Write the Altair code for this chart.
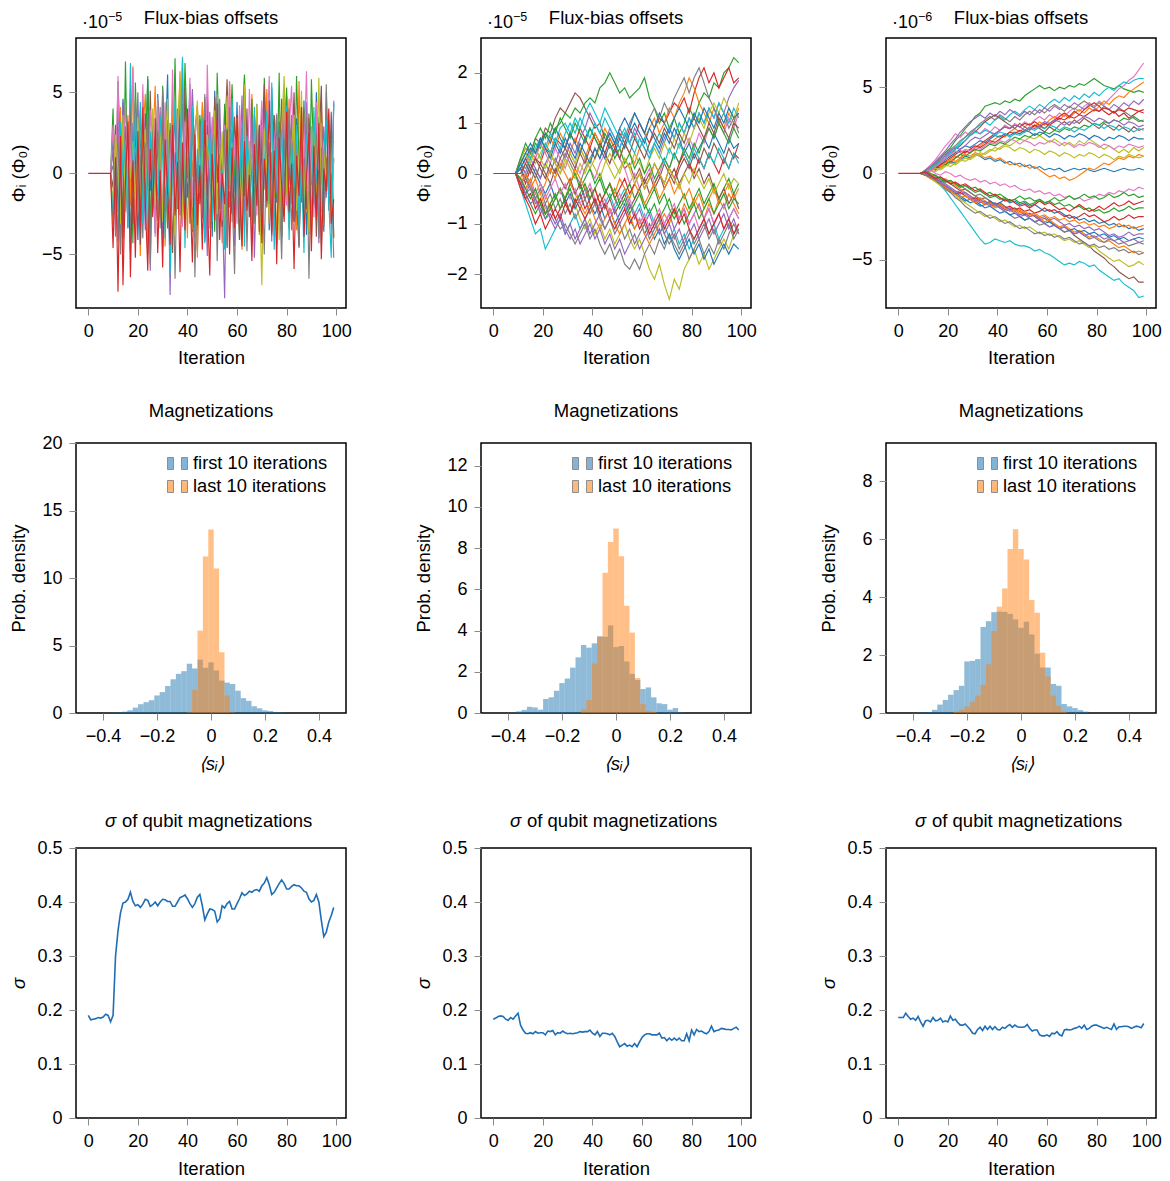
import altair as alt
import pandas as pd

FONT = "Liberation Sans"
BLUE, ORANGE, GREEN, RED, PURPLE = "#1f77b4", "#ff7f0e", "#2ca02c", "#d62728", "#9467bd"
BROWN, PINK, GRAY, OLIVE, CYAN = "#8c564b", "#e377c2", "#7f7f7f", "#bcbd22", "#17becf"
SIGMA_COLOR = "#1f6eb5"

W, H = 270, 270
ITER_TICKS = [0, 20, 40, 60, 80, 100]
ITER_DOMAIN = [-4.95, 103.95]
HOLD_UNTIL = 9  # offsets stay at 0 through this iteration

# ---------------- Row 1, panel 1 (x 1e-5), one value per iteration 10..99
P1_FIRST, P1_STEP = 10, 1
P1_A = [2.1, -1.5, 3.8, -2.9, 4.6, 0.7, -3.4, 5.2, -0.8, 2.9, -4.1, 1.6, 3.3, -2.2, 5.8, -1.1, 0.4, -3.7, 4.9, 2.0,
        -2.8, 1.3, 6.1, -4.4, 0.9, 3.5, -1.9, 4.2, -3.1, 2.6, -0.3, 5.5, -2.6, 1.0, -4.8, 3.0, 0.2, 4.7, -1.4, 2.3,
        -3.9, 5.1, -0.6, 1.8, -2.4, 3.9, -4.6, 0.5, 2.7, -1.2, 4.4, -3.3, 1.1, 5.9, -2.0, 0.8, -4.2, 3.6, 1.5, -2.7,
        4.0, -0.9, 2.4, -3.5, 5.3, 0.1, -1.8, 3.2, -4.0, 2.2, 4.8, -2.5, 0.6, -3.0, 3.4, 1.9, -1.6, 4.5, -3.8, 0.3,
        2.8, -2.1, 5.0, -0.4, 1.2, -3.6, 3.7, 0.0, -2.3, 4.3]
P1_B = [-3.2, 2.7, -0.5, 4.1, -4.9, 1.8, 3.6, -2.0, 6.6, -1.3, 0.9, -5.1, 2.4, 4.9, -0.7, -3.6, 1.7, 5.4, -2.9, 0.4,
        3.1, -4.5, 2.0, -1.1, 4.6, -3.3, 0.8, 6.3, -2.3, 1.5, -4.0, 3.8, -0.2, 2.5, -5.2, 1.1, 4.4, -1.7, 2.9, -3.4,
        0.6, 4.2, -2.8, 1.9, -4.3, 3.3, -0.9, 5.6, -3.0, 2.1, -1.5, 3.7, -4.7, 0.2, 2.6, -2.2, 4.9, -0.4, 1.4, -3.8,
        3.0, -1.0, 5.2, -3.1, 0.7, 2.3, -4.4, 1.6, 3.9, -2.6, 0.1, 4.6, -1.9, 2.8, -3.5, 5.7, -0.8, 1.3, -2.4, 3.4,
        -4.1, 0.5, 2.2, -1.6, 4.7, -3.2, 1.0, -0.3, 2.6, -3.9]
P1_C = [4.0, -2.1, 5.7, 1.2, -3.0, 6.9, -1.6, 2.8, -4.3, 5.6, 0.3, 3.9, -2.5, 1.4, 6.0, -3.8, 2.5, -0.6, 4.5, -2.7,
        5.4, 1.9, -3.4, 3.1, 0.0, 7.1, -2.2, 4.1, -1.0, 6.8, 2.2, -3.1, 5.0, 0.6, -2.4, 3.6, 1.7, -4.0, 4.8, -0.5,
        2.9, -3.6, 6.2, 0.9, -1.9, 4.3, -2.8, 1.5, 5.5, -0.2, 3.2, -4.1, 2.0, 6.1, -1.3, 0.4, 4.6, -2.6, 3.8, 1.0,
        -3.3, 5.9, 0.7, -2.0, 4.4, 2.5, -1.5, 6.2, -3.9, 1.8, 5.3, -0.7, 2.7, -2.9, 6.0, 0.9, -1.8, 4.0, 2.1, -3.7,
        5.8, 0.4, -2.2, 3.5, 1.3, -3.0, 4.2, -0.9, 2.4, 1.9]
P1_E = [1.5, -3.9, 2.6, -1.0, 4.4, -2.3, 0.3, -4.8, 3.1, -0.7, 5.0, -2.0, 1.2, -3.5, 3.7, -6.0, 0.9, 2.2, -1.4, 4.1,
        -4.6, 0.5, 3.3, -7.5, 1.8, -0.9, 4.0, -2.6, 7.0, -3.2, 2.4, -1.1, 5.2, -4.0, 0.6, 3.1, -2.8, 1.4, -5.1, 3.8,
        -0.5, 2.0, -3.7, 4.6, -1.6, -7.7, 3.2, -2.1, 0.8, -4.5, 2.9, -0.3, 4.8, -3.0, 1.7, -1.9, 3.5, -5.2, 0.4, 2.6,
        -2.5, 4.9, -0.8, 1.9, -4.2, 3.0, -1.2, 2.5, -3.4, 5.1, -1.7, 0.8, 3.6, -2.7, 1.0, -4.6, 2.3, -0.4, 4.4, -3.1,
        1.6, -2.0, 3.9, -4.3, 0.2, 2.9, -1.5, 3.3, -2.6, 0.9]
P1_F = [-0.9, 3.0, -2.4, 1.7, -4.0, 2.9, -1.2, 4.5, -3.1, 0.6, 2.3, -4.4, 1.0, 3.7, -2.0, 5.1, -0.8, -3.0, 2.1, -1.6,
        4.0, -2.9, 0.4, 2.7, -4.9, 1.3, -0.2, 3.4, -2.3, 5.3, -1.5, 0.9, -3.6, 2.6, 4.2, -1.9, 0.1, -4.2, 3.0, 1.4,
        -2.7, 4.7, -0.5, 1.8, -3.3, 2.2, 5.8, -1.0, -2.5, 3.5, 0.3, -4.1, 2.8, -1.4, 4.0, -2.7, 1.2, -0.6, 3.3, -3.6,
        1.7, 5.5, -2.1, 0.2, -3.8, 3.6, 1.0, -2.4, 4.6, -0.9, 2.0, -3.4, 0.7, 5.0, -1.8, -4.5, 2.5, 0.0, -2.2, 3.7,
        -0.7, 2.2, -3.9, 1.5, 5.4, -2.8, 0.9, -1.3, 3.8, -4.0]
P1_G = [3.0, -0.2, 6.0, -2.8, 1.1, 4.3, -1.7, 0.9, 6.5, -3.6, 2.0, -1.0, 5.5, 0.4, -2.2, 3.9, 1.6, -3.9, 4.7, 0.0,
        -2.5, 4.4, 1.3, -0.8, 6.4, -1.9, 2.5, 5.0, -3.3, 3.2, 0.7, 5.9, -2.1, 1.9, 4.0, -0.7, 2.8, -3.7, 6.7, 0.3,
        3.5, -1.5, 4.9, 1.0, -2.9, 3.0, 0.5, 5.7, -1.2, 2.2, -3.1, 4.2, 0.8, 2.7, -1.8, 5.2, -0.2, 3.3, -2.6, 1.3,
        4.5, -0.9, 2.1, 6.0, -3.0, 1.8, 3.7, -1.4, 0.6, 4.8, -2.0, 2.6, 5.4, -0.5, 1.4, -3.2, 4.1, 0.9, 6.3, -1.1,
        2.9, -2.7, 4.4, 0.2, 3.1, -1.9, 5.0, 1.1, -3.5, 4.5]
P1_H = [0.5, -2.9, 1.9, -5.0, 3.4, -1.4, 2.2, -3.8, 0.8, 4.6, -2.3, 1.1, -4.0, 2.9, 0.1, -5.6, 3.0, -1.0, 2.6, -3.4,
        5.2, -2.0, 0.6, -4.1, 2.1, -6.5, 1.4, -0.9, 4.3, -3.0, 1.0, -2.6, 3.8, -6.4, 0.4, 2.4, -1.8, 4.9, -3.2, 0.2,
        -2.1, 3.3, -5.4, 1.2, -0.6, 2.7, -4.5, 4.1, -1.3, -6.2, 2.0, -2.8, 0.9, 3.9, -4.8, 1.5, -0.4, -3.1, 4.3, -1.6,
        0.6, -5.0, 2.8, -2.2, 1.3, -3.9, 3.6, -0.7, -5.3, 2.1, -1.2, 4.0, -3.5, 0.4, 2.2, -4.4, 1.0, -2.7, 3.5, -6.5,
        0.8, -1.9, 2.5, -4.0, 1.6, -3.3, 5.5, -2.3, 0.0, -5.2]
P1_I = [-1.8, 2.4, 0.2, -3.1, 3.6, -2.4, 1.5, -0.3, 2.0, -2.6, 3.5, -1.7, 0.6, 2.7, -3.4, 1.1, 4.0, -2.0, -0.4, 2.9,
        -3.0, 1.2, 4.6, -1.6, 0.3, -3.8, 2.8, 5.9, -2.7, 0.8, 3.1, -1.3, -3.5, 2.0, 4.5, -0.8, 1.6, -3.0, 2.4, 0.5,
        -1.4, 3.9, -2.5, 0.0, 2.6, -3.7, 4.8, -1.1, 1.9, -2.9, 3.4, 0.7, -2.4, 5.5, -1.7, 2.0, -3.3, 0.9, 4.2, -0.6,
        -6.9, 2.7, 0.4, -2.8, 3.8, -1.5, 1.2, -4.1, 2.9, 6.0, -0.9, -3.2, 1.7, 3.6, -2.3, 0.6, 5.1, -1.9, 2.2, -3.6,
        0.4, 3.0, -1.2, 5.9, -2.4, 1.4, -0.5, 3.7, -3.0, 1.0]
P1_J = [-2.6, 0.8, -4.2, 3.2, -0.2, 2.1, -3.3, 6.8, -1.5, 3.7, -0.6, 4.4, -3.1, 1.9, -5.0, 2.6, -1.3, 0.5, -2.8, 3.6,
        1.0, -4.0, 2.2, -6.2, 0.7, 4.5, -2.1, 1.3, 7.2, -4.6, 2.7, -0.4, 4.2, -3.4, 1.5, -1.2, 3.4, -4.3, 0.9, 2.5,
        -3.0, 1.4, 4.4, -2.2, 0.2, -4.7, 2.8, -1.0, 4.6, -3.4, 1.8, -0.8, 3.1, -4.5, 2.3, 0.4, -2.9, 4.1, -1.4, 2.9,
        -3.7, 0.2, 3.9, -1.9, 5.6, -4.7, 1.6, -0.5, 2.7, -2.0, 4.2, -4.1, 1.9, -0.9, 3.0, -3.3, 0.5, -4.9, 2.4, 1.1,
        -2.9, 4.1, -0.6, 2.0, -4.4, 1.5, 3.3, -1.7, -5.2, 4.4]
P1_D = [-4.6, 1.0, -7.3, 2.3, -6.9, -0.4, 3.2, -6.4, 0.8, -5.2, 2.6, -3.3, 4.1, -1.8, -6.0, 1.5, -2.7, 3.4, -4.9, 0.2,
        -5.8, 2.1, -1.2, -4.4, 3.0, -2.6, 0.7, -6.1, 1.9, -3.5, 4.0, -1.0, -5.5, 2.4, -3.2, 0.5, -4.7, 3.3, -1.5, -6.3,
        1.2, -2.9, 4.3, -4.1, 0.0, -1.9, 2.7, -5.0, 1.6, -3.4, 3.6, -0.6, -4.5, 2.0, -2.3, -0.1, -5.4, 1.8, -2.0, 3.0,
        -4.3, 0.9, -1.7, 4.5, -3.6, 1.4, -5.6, 2.2, -0.8, -3.0, 3.8, -2.4, 0.6, -5.9, 1.1, -1.4, 4.1, -3.9, -0.2, 2.5,
        -4.8, 1.7, -2.8, 3.1, -5.3, 0.3, -1.1, 4.0, -3.1, -1.6]
P1_SERIES = [("a", BLUE, P1_A), ("b", ORANGE, P1_B), ("c", GREEN, P1_C), ("e", PURPLE, P1_E),
             ("f", BROWN, P1_F), ("g", PINK, P1_G), ("h", GRAY, P1_H), ("i", OLIVE, P1_I),
             ("j", CYAN, P1_J), ("k", RED, P1_D)]

# ---------------- Row 1, panel 2 (x 1e-5), every other iteration 11..99
P2_FIRST, P2_STEP = 11, 2
P2_W1 = [0.2, 0.4, 0.3, 0.6, 0.5, 0.8, 0.7, 0.9, 1.0, 1.2, 1.1, 1.3, 1.2, 1.4, 1.5, 1.4, 1.7, 1.8, 2.0, 1.8,
         1.6, 1.7, 1.5, 1.6, 1.7, 1.9, 1.5, 1.3, 1.0, 1.2, 0.9, 1.1, 0.8, 1.0, 1.3, 1.1, 1.4, 1.6, 1.5, 1.8,
         1.7, 2.0, 2.1, 2.3, 2.2]
P2_W2 = [0.1, -0.2, 0.1, 0.3, 0.2, 0.5, 0.4, 0.7, 0.6, 0.5, 0.8, 0.6, 0.9, 0.7, 0.5, 0.8, 0.6, 0.4, 0.7, 0.5,
         0.8, 0.6, 0.9, 0.7, 1.0, 0.8, 0.6, 0.9, 1.1, 1.0, 1.2, 1.4, 1.3, 1.5, 1.2, 1.6, 1.9, 2.1, 1.8, 2.0,
         1.7, 1.9, 2.1, 1.8, 1.9]
P2_W3 = [-0.1, 0.2, 0.4, 0.3, 0.6, 0.4, 0.7, 0.5, 0.8, 0.6, 0.4, 0.7, 0.5, 0.3, 0.6, 0.8, 0.6, 0.9, 0.7, 0.5,
         0.3, 0.6, 0.4, 0.2, 0.5, 0.7, 0.9, 1.1, 0.8, 1.0, 1.3, 1.1, 1.4, 1.6, 1.9, 1.7, 1.4, 1.2, 1.0, 1.3,
         1.1, 0.9, 1.2, 1.0, 1.3]
P2_W4 = [0.2, 0.0, -0.2, 0.1, -0.1, 0.2, 0.0, 0.3, 0.1, 0.4, 0.2, 0.0, -0.2, 0.1, 0.3, 0.5, 0.3, 0.6, 0.8, 0.6,
         0.9, 0.7, 1.0, 1.2, 1.0, 0.8, 1.1, 1.3, 1.1, 1.4, 1.2, 1.5, 1.7, 1.9, 1.6, 1.9, 2.1, 1.8, 1.5, 1.3,
         1.0, 1.2, 0.9, 1.1, 0.8]
P2_W5 = [0.3, 0.5, 0.4, 0.7, 0.6, 0.9, 0.8, 1.1, 1.3, 1.2, 1.4, 1.6, 1.5, 1.3, 1.1, 0.9, 1.0, 0.7, 0.5, 0.6,
         0.3, 0.1, 0.2, -0.1, 0.1, -0.2, 0.0, -0.3, -0.1, 0.2, 0.0, -0.2, 0.1, 0.3, 0.1, 0.4, 0.2, 0.5, 0.3, 0.6,
         0.4, 0.2, 0.5, 0.3, 0.6]
P2_W6 = [-0.1, -0.3, -0.2, -0.5, -0.4, -0.7, -0.6, -0.4, -0.7, -0.5, -0.8, -0.6, -0.9, -1.1, -0.9, -1.2, -1.0, -1.3, -1.1, -1.4,
         -1.2, -1.0, -1.3, -1.5, -1.3, -1.6, -1.9, -2.1, -1.8, -2.2, -2.5, -2.1, -2.3, -1.9, -1.7, -1.5, -1.8, -1.6, -1.9, -1.7,
         -1.5, -1.3, -1.5, -1.2, -1.1]
P2_W7 = [-0.3, -0.6, -0.9, -1.2, -1.1, -1.5, -1.3, -1.1, -0.9, -1.2, -1.0, -0.8, -1.1, -0.9, -0.7, -0.5, -0.8, -0.6, -0.4, -0.7,
         -0.5, -0.3, -0.6, -0.8, -0.6, -0.9, -0.7, -1.0, -1.2, -1.0, -1.3, -1.1, -1.4, -1.2, -1.5, -1.3, -1.1, -0.9, -1.2, -1.0,
         -1.3, -1.1, -0.9, -1.2, -1.0]
P2_W8 = [-0.2, -0.4, -0.3, -0.6, -0.5, -0.8, -0.7, -0.9, -1.1, -1.0, -1.2, -1.4, -1.2, -1.0, -1.3, -1.1, -1.4, -1.6, -1.4, -1.7,
         -1.5, -1.8, -1.9, -1.7, -1.9, -1.6, -1.4, -1.6, -1.3, -1.5, -1.2, -1.4, -1.6, -1.4, -1.7, -1.5, -1.3, -1.6, -1.4, -1.6,
         -1.3, -1.5, -1.2, -1.0, -1.2]
P2_W9 = [0.1, -0.1, 0.2, 0.0, -0.2, -0.4, -0.2, -0.5, -0.3, -0.6, -0.4, -0.7, -0.5, -0.3, -0.6, -0.8, -0.6, -0.9, -0.7, -1.0,
         -0.8, -0.6, -0.9, -1.1, -0.9, -1.2, -1.0, -1.3, -1.1, -1.4, -1.2, -1.5, -1.7, -1.5, -1.3, -1.6, -1.4, -1.7, -1.5, -1.8,
         -1.6, -1.4, -1.6, -1.4, -1.5]
P2_W10 = [0.2, 0.0, 0.3, 0.1, -0.1, 0.2, 0.4, 0.2, 0.5, 0.3, 0.6, 0.4, 0.7, 0.9, 1.2, 1.0, 0.8, 0.6, 0.9, 0.7,
          0.5, 0.8, 0.6, 0.9, 0.7, 0.5, 0.3, 0.6, 0.4, 0.7, 0.9, 0.7, 1.0, 0.8, 1.1, 0.9, 1.2, 1.0, 1.3, 1.1,
          1.4, 1.2, 1.5, 1.7, 1.85]
P2_W11 = [0.3, 0.2, 0.5, 0.3, 0.6, 0.4, 0.2, 0.5, 0.3, 0.1, 0.4, 0.2, 0.0, 0.3, 0.1, -0.1, 0.2, 0.4, 0.2, 0.5,
          0.3, 0.1, -0.2, 0.0, -0.3, -0.1, 0.1, -0.2, 0.0, 0.3, 0.1, 0.4, 0.2, 0.5, 0.7, 0.5, 0.8, 0.6, 0.9, 0.7,
          1.0, 0.8, 1.1, 0.9, 1.2]
P2_W13 = [-0.1, -0.3, -0.1, -0.4, -0.6, -0.4, -0.7, -0.5, -0.3, -0.5, -0.2, -0.4, -0.6, -0.8, -0.6, -0.9, -1.1, -0.9, -0.7, -1.0,
          -1.2, -1.0, -0.8, -1.1, -0.9, -1.2, -1.4, -1.2, -1.0, -0.8, -1.0, -0.7, -0.9, -0.6, -0.8, -0.5, -0.7, -0.9, -0.6, -0.8,
          -0.5, -0.7, -0.4, -0.6, -0.8]
P2_W14 = [0.2, 0.4, 0.3, 0.5, 0.7, 0.5, 0.8, 0.6, 0.9, 1.0, 0.8, 1.1, 0.9, 1.2, 1.4, 1.2, 1.0, 1.3, 1.1, 0.9,
          0.7, 0.9, 0.6, 0.8, 0.5, 0.7, 0.4, 0.6, 0.8, 0.6, 0.9, 0.7, 1.0, 0.8, 1.1, 0.9, 1.2, 1.0, 1.3, 1.1,
          1.4, 1.2, 1.0, 1.3, 1.1]
P2_W15 = [-0.2, -0.4, -0.6, -0.8, -0.6, -0.9, -0.7, -0.5, -0.3, -0.5, -0.2, 0.0, -0.3, -0.1, 0.1, -0.2, 0.0, -0.3, -0.5, -0.3,
          -0.6, -0.4, -0.2, -0.5, -0.3, -0.6, -0.8, -0.6, -0.9, -0.7, -0.5, -0.8, -0.6, -0.4, -0.7, -0.5, -0.3, -0.6, -0.4, -0.2,
          -0.5, -0.3, -0.1, -0.4, -0.2]
P2_W16 = [-0.1, -0.4, -0.2, -0.5, -0.7, -0.9, -0.8, -1.0, -0.8, -1.1, -1.3, -1.1, -1.4, -1.2, -1.0, -1.3, -1.1, -1.4, -1.2, -1.5,
          -1.3, -1.6, -1.4, -1.2, -1.5, -1.3, -1.1, -0.9, -1.2, -1.0, -0.8, -1.1, -0.9, -0.7, -1.0, -0.8, -0.6, -0.9, -0.7, -1.0,
          -0.8, -0.6, -0.9, -0.7, -0.9]
P2_W17 = [0.1, 0.3, 0.1, -0.1, 0.2, 0.0, -0.2, 0.1, -0.1, -0.3, -0.1, -0.4, -0.2, -0.5, -0.3, -0.6, -0.4, -0.7, -0.5, -0.8,
          -0.6, -0.4, -0.7, -0.5, -0.3, -0.1, -0.4, -0.2, 0.0, -0.3, -0.1, 0.1, -0.2, 0.0, 0.2, -0.1, 0.1, -0.2, 0.0, -0.3,
          -0.5, -0.3, -0.6, -0.4, -0.7]
P2_W18 = [0.3, 0.5, 0.4, 0.2, 0.4, 0.6, 0.4, 0.2, 0.0, 0.2, 0.4, 0.2, 0.5, 0.3, 0.1, 0.3, 0.5, 0.3, 0.1, -0.1,
          0.1, 0.3, 0.1, 0.4, 0.2, 0.0, 0.3, 0.5, 0.3, 0.6, 0.4, 0.7, 0.5, 0.8, 0.6, 0.9, 1.1, 0.9, 1.2, 1.4,
          1.2, 1.5, 1.3, 1.1, 1.4]
P2_X1 = [0.1, 0.3, 0.5, 0.4, 0.6, 0.8, 0.6, 0.9, 0.7, 0.5, 0.8, 0.6, 0.4, 0.7, 0.9, 0.7, 0.5, 0.3, 0.6, 0.4,
         0.7, 0.5, 0.8, 1.0, 0.8, 0.6, 0.9, 0.7, 0.5, 0.8, 0.6, 0.9, 0.7, 0.4, 0.6, 0.3, 0.5, 0.7, 0.5, 0.8,
         0.6, 0.4, 0.7, 0.5, 0.6]
P2_X2 = [-0.2, 0.0, -0.3, -0.1, -0.4, -0.2, 0.1, -0.1, 0.2, 0.0, -0.2, 0.1, -0.1, -0.3, -0.5, -0.3, -0.6, -0.4, -0.2, -0.4,
         -0.1, -0.3, -0.5, -0.2, -0.4, -0.6, -0.4, -0.2, -0.5, -0.3, -0.1, -0.4, -0.2, -0.5, -0.3, -0.6, -0.4, -0.7, -0.5, -0.3,
         -0.6, -0.4, -0.2, -0.5, -0.3]
P2_X3 = [0.3, 0.6, 0.4, 0.7, 0.9, 0.7, 1.0, 0.8, 1.1, 0.9, 0.7, 1.0, 0.8, 0.6, 0.9, 0.7, 0.5, 0.8, 0.6, 0.3,
         0.5, 0.2, 0.4, 0.1, 0.3, 0.0, 0.2, -0.1, 0.1, 0.3, 0.1, 0.4, 0.2, 0.5, 0.3, 0.6, 0.4, 0.7, 0.9, 0.7,
         1.0, 0.8, 0.6, 0.9, 0.7]
P2_X4 = [-0.3, -0.5, -0.4, -0.7, -0.5, -0.8, -0.6, -0.9, -0.7, -0.5, -0.8, -0.6, -0.4, -0.7, -0.5, -0.3, -0.6, -0.4, -0.2, -0.5,
         -0.3, -0.1, -0.4, -0.2, 0.0, -0.3, -0.1, 0.2, 0.0, -0.2, 0.1, -0.1, 0.2, 0.4, 0.2, 0.0, 0.3, 0.1, 0.4, 0.2,
         0.0, 0.3, 0.1, 0.4, 0.3]
P2_X5 = [-0.2, -0.4, -0.6, -0.5, -0.8, -0.6, -0.9, -1.1, -0.9, -1.2, -1.0, -1.3, -1.1, -0.9, -1.2, -1.0, -0.8, -1.1, -0.9, -0.7,
         -1.0, -0.8, -0.6, -0.9, -0.7, -1.0, -0.8, -1.1, -0.9, -1.2, -1.0, -1.3, -1.1, -1.4, -1.2, -1.0, -1.3, -1.1, -0.9, -1.2,
         -1.0, -0.8, -1.1, -0.9, -1.2]
P2_X6 = [0.2, 0.1, 0.3, 0.5, 0.3, 0.6, 0.4, 0.7, 0.5, 0.8, 1.0, 0.8, 1.1, 0.9, 0.7, 1.0, 0.8, 1.1, 0.9, 0.7,
         0.5, 0.8, 0.6, 0.4, 0.7, 0.5, 0.3, 0.6, 0.4, 0.2, 0.5, 0.3, 0.6, 0.4, 0.2, 0.5, 0.3, 0.1, 0.4, 0.2,
         0.5, 0.3, 0.1, 0.4, 0.2]
P2_X7 = [-0.1, -0.3, -0.2, -0.4, -0.2, -0.5, -0.3, -0.1, -0.4, -0.2, -0.5, -0.3, -0.6, -0.4, -0.2, -0.5, -0.7, -0.5, -0.8, -0.6,
         -0.4, -0.7, -0.5, -0.8, -1.0, -0.8, -1.1, -0.9, -0.7, -1.0, -0.8, -0.6, -0.9, -0.7, -1.0, -0.8, -1.1, -0.9, -0.7, -1.0,
         -0.8, -1.1, -0.9, -0.7, -0.9]
P2_X8 = [0.0, 0.2, 0.0, 0.3, 0.1, -0.1, 0.2, 0.0, 0.3, 0.5, 0.3, 0.1, 0.4, 0.2, 0.5, 0.3, 0.6, 0.4, 0.2, 0.5,
         0.3, 0.6, 0.4, 0.7, 0.5, 0.3, 0.6, 0.8, 0.6, 0.9, 0.7, 0.5, 0.8, 0.6, 0.9, 1.1, 0.9, 0.7, 1.0, 0.8,
         1.1, 0.9, 0.7, 1.0, 0.9]
P2_X9 = [-0.2, -0.1, -0.3, -0.5, -0.3, -0.6, -0.4, -0.7, -0.5, -0.8, -0.6, -0.9, -0.7, -0.5, -0.8, -0.6, -0.9, -1.1, -0.9, -1.2,
         -1.0, -1.3, -1.1, -1.4, -1.2, -1.0, -1.3, -1.1, -0.9, -1.2, -1.4, -1.2, -1.5, -1.3, -1.1, -1.4, -1.2, -1.0, -1.3, -1.1,
         -1.4, -1.2, -1.0, -1.3, -1.1]
P2_X10 = [0.2, 0.4, 0.2, 0.5, 0.3, 0.1, 0.4, 0.2, 0.0, 0.3, 0.1, -0.1, 0.2, 0.0, 0.3, 0.1, -0.1, 0.2, 0.4, 0.2,
          0.0, 0.3, 0.1, -0.2, 0.0, -0.3, -0.1, 0.2, 0.0, -0.2, 0.1, -0.1, -0.3, 0.0, -0.2, 0.1, -0.1, -0.3, -0.1, -0.4,
          -0.2, 0.0, -0.3, -0.1, -0.2]
P2_X11 = [-0.1, -0.3, -0.5, -0.3, -0.6, -0.8, -0.6, -0.4, -0.7, -0.5, -0.3, -0.6, -0.4, -0.2, -0.5, -0.3, -0.1, -0.4, -0.2, -0.5,
          -0.7, -0.5, -0.8, -0.6, -0.4, -0.7, -0.5, -0.3, -0.6, -0.4, -0.7, -0.9, -0.7, -1.0, -0.8, -0.6, -0.9, -0.7, -0.5, -0.8,
          -0.6, -0.4, -0.7, -0.5, -0.6]
P2_X12 = [0.2, 0.4, 0.6, 0.4, 0.7, 0.5, 0.3, 0.6, 0.4, 0.7, 0.5, 0.3, 0.6, 0.4, 0.2, 0.5, 0.3, 0.6, 0.8, 0.6,
          0.9, 1.1, 0.9, 1.2, 1.0, 0.8, 1.1, 0.9, 1.2, 1.0, 0.8, 1.1, 1.3, 1.1, 0.9, 1.2, 1.0, 1.3, 1.1, 0.9,
          1.2, 1.0, 1.3, 1.1, 1.2]
P2_W12 = [-0.2, -0.5, -0.7, -1.0, -0.8, -1.1, -0.9, -0.7, -0.9, -0.6, -0.8, -0.5, -0.7, -0.9, -0.7, -0.5, -0.8, -0.6, -0.9, -1.1,
          -0.9, -0.7, -1.0, -0.8, -1.1, -0.9, -1.2, -1.0, -0.8, -1.1, -0.9, -0.7, -1.0, -0.8, -1.1, -1.3, -1.1, -0.9, -1.2, -1.0,
          -0.8, -1.1, -0.9, -1.2, -1.0]
P2_SERIES = [("a", GREEN, P2_W1), ("b", RED, P2_W2), ("c", ORANGE, P2_W3), ("d", GRAY, P2_W4),
             ("e", BROWN, P2_W5), ("f", OLIVE, P2_W6), ("g", CYAN, P2_W7), ("h", GRAY, P2_W8),
             ("i", BLUE, P2_W9), ("j", PURPLE, P2_W10), ("k", PINK, P2_W11), ("l", ORANGE, P2_W13),
             ("m", CYAN, P2_W14), ("n", GREEN, P2_W15), ("o", PURPLE, P2_W16), ("p", BROWN, P2_W17),
             ("q", OLIVE, P2_W18), ("r", BLUE, P2_X1), ("s", ORANGE, P2_X2), ("t", GREEN, P2_X3),
             ("u", RED, P2_X4), ("v", PURPLE, P2_X5), ("w", CYAN, P2_X6), ("x", PINK, P2_X7),
             ("y", BROWN, P2_X8), ("z", GRAY, P2_X9), ("za", OLIVE, P2_X10), ("zb", GREEN, P2_X11),
             ("zc", BLUE, P2_X12), ("zz", RED, P2_W12)]

# ---------------- Row 1, panel 3 (x 1e-6), every other iteration 11..99
P3_FIRST, P3_STEP = 11, 2
P3_V1 = [0.1, 0.3, 0.6, 0.9, 1.2, 1.5, 1.9, 2.2, 2.6, 2.9, 3.3, 3.5, 3.9, 4.0, 4.1, 4.0, 4.2, 4.1, 4.3, 4.2,
         4.5, 4.7, 4.9, 5.1, 4.9, 5.0, 4.8, 5.0, 4.9, 5.1, 5.0, 5.2, 5.1, 5.3, 5.5, 5.3, 5.1, 5.0, 4.9, 5.1,
         4.9, 4.8, 4.7, 4.8, 4.7]
P3_V2 = [0.2, 0.5, 0.8, 1.2, 1.6, 1.9, 2.3, 2.1, 2.4, 2.2, 2.5, 2.3, 2.6, 2.4, 2.7, 2.5, 2.8, 2.6, 2.9, 2.7,
         3.0, 2.8, 3.1, 3.3, 3.1, 3.4, 3.2, 3.5, 3.3, 3.6, 3.8, 3.6, 3.9, 4.1, 3.9, 4.2, 4.0, 4.3, 4.6, 4.9,
         5.1, 5.4, 5.6, 6.0, 6.4]
P3_V3 = [0.1, 0.3, 0.5, 0.8, 1.0, 1.3, 1.5, 1.8, 2.1, 2.3, 2.6, 2.8, 3.0, 2.8, 3.1, 3.3, 3.1, 3.4, 3.6, 3.4,
         3.7, 3.9, 3.7, 4.0, 3.8, 4.1, 4.3, 4.1, 4.4, 4.2, 4.5, 4.3, 4.6, 4.4, 4.7, 4.5, 4.8, 5.0, 4.8, 5.1,
         5.3, 5.2, 5.4, 5.5, 5.5]
P3_V4 = [0.0, 0.2, 0.4, 0.3, 0.6, 0.8, 1.0, 0.9, 1.2, 1.4, 1.3, 1.6, 1.8, 1.7, 2.0, 2.2, 2.1, 2.4, 2.6, 2.4,
         2.7, 2.9, 2.7, 3.0, 2.8, 3.1, 3.3, 3.1, 3.4, 3.2, 3.5, 3.7, 3.5, 3.8, 3.6, 3.9, 4.2, 4.0, 4.3, 4.5,
         4.4, 4.7, 4.9, 5.1, 5.3]
P3_V5 = [0.2, 0.4, 0.7, 1.0, 1.3, 1.7, 2.0, 2.4, 2.7, 3.0, 3.2, 3.4, 3.2, 3.5, 3.3, 3.6, 3.4, 3.7, 3.5, 3.3,
         3.6, 3.4, 3.7, 3.5, 3.8, 3.6, 3.9, 3.7, 4.0, 3.8, 4.1, 3.9, 3.7, 4.0, 3.8, 3.6, 3.9, 3.7, 4.0, 3.8,
         4.1, 3.9, 4.2, 4.0, 4.3]
P3_V6 = [0.1, 0.3, 0.2, 0.5, 0.7, 0.6, 0.9, 1.1, 1.3, 1.2, 1.5, 1.7, 1.9, 2.1, 2.3, 2.5, 2.7, 2.6, 2.8, 2.7,
         2.9, 2.8, 3.0, 2.8, 2.6, 2.9, 3.1, 3.3, 3.5, 3.3, 3.6, 3.4, 3.7, 3.9, 4.1, 3.9, 3.6, 3.4, 3.6, 3.3,
         3.5, 3.2, 3.4, 3.6, 3.5]
P3_V7 = [0.2, 0.4, 0.6, 0.9, 1.1, 1.4, 1.6, 1.9, 2.1, 2.4, 2.6, 2.9, 3.1, 3.3, 3.1, 3.4, 3.2, 3.0, 3.3, 3.1,
         3.4, 3.6, 3.4, 3.7, 3.5, 3.8, 4.0, 3.8, 3.6, 3.9, 3.7, 4.0, 4.2, 4.0, 3.8, 4.1, 3.9, 3.7, 3.5, 3.8,
         3.6, 3.4, 3.2, 3.0, 3.1]
P3_V8 = [0.1, 0.2, 0.4, 0.3, 0.5, 0.7, 0.6, 0.8, 1.0, 0.9, 1.1, 1.0, 0.8, 0.9, 0.7, 0.8, 0.6, 0.7, 0.5, 0.6,
         0.4, 0.5, 0.3, 0.4, 0.2, 0.3, 0.2, 0.3, 0.1, 0.2, 0.3, 0.2, 0.3, 0.2, 0.1, 0.2, 0.3, 0.2, 0.1, 0.2,
         0.3, 0.2, 0.2, 0.3, 0.2]
P3_V9 = [0.0, 0.2, 0.1, 0.3, 0.5, 0.4, 0.6, 0.8, 0.7, 0.9, 1.1, 1.0, 1.2, 1.4, 1.3, 1.5, 1.7, 1.6, 1.8, 2.0,
         1.9, 2.1, 2.0, 2.2, 2.0, 1.8, 2.0, 1.8, 1.6, 1.8, 1.6, 1.9, 1.7, 2.0, 1.8, 1.6, 1.4, 1.6, 1.4, 1.2,
         1.4, 1.2, 1.5, 1.3, 1.5]
P3_V10 = [0.1, 0.3, 0.5, 0.7, 0.9, 1.1, 1.4, 1.6, 1.9, 2.2, 2.4, 2.7, 3.0, 3.2, 3.4, 3.2, 3.0, 2.8, 2.6, 2.9,
          2.7, 2.5, 2.8, 2.6, 2.4, 2.7, 2.5, 2.8, 3.0, 2.8, 3.1, 2.9, 3.2, 3.0, 2.8, 2.6, 2.9, 2.7, 2.5, 2.8,
          2.6, 2.4, 2.7, 2.5, 2.6]
P3_V21 = [0.0, 0.2, 0.4, 0.6, 0.5, 0.7, 0.9, 1.1, 1.0, 1.2, 1.4, 1.3, 1.5, 1.7, 1.6, 1.8, 1.7, 1.9, 2.1, 2.0,
          2.2, 2.1, 2.3, 2.2, 2.4, 2.3, 2.5, 2.4, 2.6, 2.5, 2.7, 2.6, 2.8, 2.7, 2.9, 2.8, 3.0, 2.9, 3.1, 3.0,
          3.2, 3.1, 3.3, 3.1, 3.0]
P3_V22 = [0.1, 0.3, 0.5, 0.4, 0.6, 0.8, 0.7, 0.9, 1.1, 1.0, 1.2, 1.1, 0.9, 1.0, 0.8, 0.9, 0.7, 0.5, 0.6, 0.4,
          0.5, 0.3, 0.4, 0.2, 0.0, -0.2, -0.1, -0.3, -0.2, -0.4, -0.3, -0.1, 0.1, 0.3, 0.2, 0.4, 0.6, 0.5, 0.7, 0.9,
          0.8, 1.0, 0.9, 1.1, 1.0]
P3_Y1 = [0.1, 0.2, 0.4, 0.6, 0.8, 1.0, 1.2, 1.4, 1.6, 1.5, 1.7, 1.9, 1.8, 2.0, 2.2, 2.1, 2.3, 2.2, 2.4, 2.3,
         2.5, 2.4, 2.2, 2.4, 2.3, 2.1, 2.3, 2.2, 2.0, 2.2, 2.1, 2.3, 2.2, 2.0, 2.2, 2.1, 1.9, 2.1, 2.0, 2.2,
         2.1, 1.9, 2.1, 2.0, 2.0]
P3_Y2 = [0.0, 0.2, 0.3, 0.5, 0.7, 0.9, 1.1, 1.3, 1.2, 1.4, 1.6, 1.5, 1.7, 1.9, 1.8, 2.0, 2.2, 2.4, 2.3, 2.5,
         2.4, 2.6, 2.8, 2.7, 2.9, 2.8, 3.0, 3.2, 3.1, 3.3, 3.2, 3.4, 3.3, 3.5, 3.7, 3.6, 3.8, 3.7, 3.5, 3.7,
         3.6, 3.8, 3.7, 3.6, 3.7]
P3_Y3 = [0.1, 0.3, 0.5, 0.8, 1.0, 1.3, 1.5, 1.4, 1.6, 1.9, 2.1, 2.0, 2.2, 2.4, 2.3, 2.5, 2.7, 2.6, 2.8, 2.7,
         2.5, 2.7, 2.6, 2.8, 3.0, 2.9, 3.1, 3.0, 2.8, 3.0, 2.9, 3.1, 3.3, 3.2, 3.0, 3.2, 3.1, 2.9, 3.1, 3.0,
         2.8, 3.0, 2.9, 2.7, 2.8]
P3_Y4 = [0.0, 0.1, 0.3, 0.2, 0.4, 0.6, 0.5, 0.7, 0.9, 0.8, 1.0, 1.2, 1.1, 1.3, 1.5, 1.4, 1.6, 1.5, 1.3, 1.5,
         1.4, 1.2, 1.4, 1.3, 1.1, 1.3, 1.2, 1.0, 1.2, 1.1, 0.9, 1.1, 1.0, 1.2, 1.1, 0.9, 1.1, 1.0, 0.8, 1.0,
         0.9, 1.1, 1.0, 0.9, 1.0]
P3_Y5 = [0.1, 0.3, 0.5, 0.7, 0.9, 1.2, 1.4, 1.7, 1.9, 2.2, 2.4, 2.3, 2.5, 2.4, 2.2, 2.4, 2.3, 2.1, 2.3, 2.2,
         2.4, 2.6, 2.5, 2.7, 2.6, 2.8, 2.7, 2.5, 2.7, 2.6, 2.4, 2.6, 2.5, 2.7, 2.9, 2.8, 2.6, 2.8, 2.7, 2.5,
         2.7, 2.6, 2.4, 2.6, 2.5]
P3_Y6 = [0.1, 0.2, 0.4, 0.6, 0.9, 1.1, 1.3, 1.2, 1.4, 1.3, 1.5, 1.4, 1.6, 1.8, 1.7, 1.9, 1.8, 2.0, 1.9, 1.7,
         1.9, 1.8, 1.6, 1.8, 1.7, 1.9, 1.8, 1.6, 1.8, 1.7, 1.5, 1.7, 1.6, 1.8, 1.7, 1.5, 1.7, 1.6, 1.4, 1.6,
         1.5, 1.7, 1.6, 1.5, 1.6]
P3_V11 = [-0.1, -0.2, -0.4, -0.7, -1.0, -1.4, -1.8, -2.2, -2.6, -3.0, -3.4, -3.8, -4.1, -4.0, -3.8, -3.9, -4.0, -3.9, -4.1, -4.2,
          -4.2, -4.3, -4.5, -4.4, -4.6, -4.7, -4.9, -5.1, -5.3, -5.2, -5.3, -5.1, -5.2, -5.4, -5.3, -5.6, -5.8, -6.0, -6.2, -6.1,
          -6.4, -6.6, -6.8, -7.2, -7.1]
P3_V12 = [0.0, -0.2, -0.3, -0.5, -0.4, -0.6, -0.8, -1.0, -0.9, -1.1, -1.3, -1.5, -1.4, -1.6, -1.8, -1.7, -1.9, -2.1, -2.0, -2.2,
          -2.4, -2.3, -2.5, -2.7, -2.6, -2.8, -3.0, -3.2, -3.4, -3.3, -3.6, -3.8, -4.0, -4.2, -4.5, -4.7, -4.9, -5.2, -5.4, -5.7,
          -5.9, -6.1, -6.0, -6.3, -6.3]
P3_V13 = [-0.1, -0.3, -0.5, -0.7, -0.9, -1.1, -1.3, -1.5, -1.7, -1.9, -2.1, -2.3, -2.5, -2.4, -2.6, -2.8, -2.7, -2.9, -3.1, -3.0,
          -3.2, -3.1, -3.3, -3.5, -3.4, -3.6, -3.5, -3.7, -3.9, -3.8, -4.0, -3.9, -4.1, -4.3, -4.2, -4.5, -4.7, -4.9, -5.1, -5.0,
          -5.2, -5.4, -5.3, -5.1, -5.3]
P3_V14 = [-0.1, 0.0, -0.2, -0.4, -0.3, -0.5, -0.7, -0.9, -1.1, -1.3, -1.5, -1.4, -1.6, -1.8, -2.0, -1.9, -2.1, -2.0, -2.2, -2.1,
          -2.3, -2.5, -2.4, -2.6, -2.8, -2.7, -2.9, -3.1, -3.0, -3.2, -3.4, -3.3, -3.5, -3.7, -3.6, -3.8, -4.0, -3.9, -4.1, -4.3,
          -4.2, -4.4, -4.6, -4.5, -4.6]
P3_V15 = [0.0, -0.1, -0.3, -0.2, -0.4, -0.6, -0.5, -0.7, -0.9, -1.1, -1.3, -1.2, -1.4, -1.6, -1.8, -2.0, -2.2, -2.4, -2.6, -2.5,
          -2.7, -2.6, -2.8, -3.0, -2.9, -3.1, -3.0, -3.2, -3.4, -3.3, -3.5, -3.4, -3.6, -3.8, -3.7, -3.9, -4.0, -3.8, -3.9, -4.1,
          -4.0, -4.2, -4.1, -4.0, -4.1]
P3_V17 = [-0.1, -0.3, -0.2, -0.4, -0.6, -0.8, -1.0, -1.2, -1.1, -1.3, -1.5, -1.7, -1.6, -1.8, -1.7, -1.9, -2.1, -2.0, -2.2, -2.4,
          -2.3, -2.5, -2.4, -2.6, -2.5, -2.7, -2.6, -2.8, -3.0, -2.9, -3.1, -3.0, -3.2, -3.1, -3.3, -3.2, -3.4, -3.6, -3.5, -3.7,
          -3.6, -3.4, -3.6, -3.5, -3.5]
P3_V18 = [0.0, -0.2, -0.1, -0.3, -0.5, -0.4, -0.6, -0.8, -0.7, -0.9, -0.8, -1.0, -1.2, -1.1, -1.3, -1.2, -1.4, -1.6, -1.5, -1.3,
          -1.5, -1.4, -1.6, -1.5, -1.7, -1.6, -1.8, -1.7, -1.9, -1.8, -2.0, -1.9, -2.1, -2.0, -2.2, -2.1, -2.3, -2.2, -2.0, -2.2,
          -2.1, -1.9, -2.1, -2.0, -2.0]
P3_V19 = [0.1, 0.2, 0.0, -0.1, 0.1, 0.0, -0.2, -0.1, -0.3, -0.4, -0.3, -0.5, -0.4, -0.6, -0.5, -0.7, -0.6, -0.8, -0.7, -0.9,
          -1.0, -0.9, -1.1, -1.0, -1.2, -1.1, -1.3, -1.2, -1.4, -1.3, -1.5, -1.4, -1.6, -1.5, -1.4, -1.2, -1.3, -1.1, -1.2, -1.0,
          -1.1, -0.9, -1.0, -0.8, -0.9]
P3_V20 = [0.0, -0.2, -0.4, -0.6, -0.8, -1.0, -1.2, -1.4, -1.6, -1.5, -1.7, -1.9, -1.8, -1.6, -1.8, -1.7, -1.5, -1.7, -1.6, -1.8,
          -1.7, -1.9, -1.8, -2.0, -2.2, -2.1, -2.3, -2.2, -2.4, -2.6, -2.5, -2.7, -2.6, -2.8, -2.7, -2.9, -2.8, -3.0, -2.9, -3.1,
          -3.0, -3.2, -3.1, -3.3, -3.2]
P3_Z1 = [-0.1, -0.2, -0.4, -0.6, -0.8, -1.0, -1.2, -1.1, -1.3, -1.5, -1.4, -1.6, -1.8, -1.7, -1.9, -1.8, -2.0, -1.9, -2.1, -2.0,
         -2.2, -2.1, -2.3, -2.2, -2.0, -2.2, -2.1, -2.3, -2.5, -2.4, -2.6, -2.5, -2.3, -2.5, -2.4, -2.6, -2.8, -2.7, -2.5, -2.7,
         -2.6, -2.4, -2.6, -2.5, -2.5]
P3_Z2 = [0.0, -0.2, -0.3, -0.5, -0.7, -0.9, -1.1, -1.3, -1.5, -1.7, -1.6, -1.8, -2.0, -1.9, -2.1, -2.3, -2.2, -2.4, -2.3, -2.5,
         -2.7, -2.6, -2.8, -2.7, -2.9, -2.8, -3.0, -3.2, -3.1, -3.3, -3.2, -3.4, -3.3, -3.5, -3.4, -3.6, -3.5, -3.7, -3.6, -3.8,
         -3.7, -3.9, -3.8, -3.7, -3.8]
P3_Z3 = [0.1, 0.0, -0.1, -0.3, -0.5, -0.4, -0.6, -0.8, -0.7, -0.9, -1.1, -1.0, -1.2, -1.4, -1.3, -1.5, -1.4, -1.6, -1.5, -1.7,
         -1.6, -1.8, -1.7, -1.5, -1.7, -1.6, -1.4, -1.6, -1.5, -1.3, -1.5, -1.4, -1.2, -1.4, -1.3, -1.5, -1.4, -1.2, -1.4, -1.3,
         -1.1, -1.3, -1.2, -1.4, -1.3]
P3_Z4 = [-0.1, -0.3, -0.4, -0.6, -0.8, -1.0, -1.2, -1.4, -1.3, -1.5, -1.7, -1.6, -1.8, -1.7, -1.9, -1.8, -2.0, -2.2, -2.1, -2.3,
         -2.2, -2.4, -2.3, -2.5, -2.4, -2.6, -2.5, -2.7, -2.6, -2.8, -2.7, -2.9, -2.8, -3.0, -2.9, -3.1, -3.0, -3.2, -3.1, -2.9,
         -3.1, -3.0, -3.2, -3.1, -3.0]
P3_Z5 = [-0.1, -0.2, -0.4, -0.6, -0.9, -1.1, -1.4, -1.6, -1.9, -2.1, -2.3, -2.2, -2.4, -2.6, -2.5, -2.7, -2.9, -2.8, -3.0, -3.2,
         -3.1, -3.3, -3.5, -3.4, -3.6, -3.5, -3.7, -3.6, -3.8, -3.7, -3.9, -4.1, -4.0, -4.2, -4.1, -4.3, -4.2, -4.4, -4.3, -4.5,
         -4.4, -4.6, -4.5, -4.7, -4.6]
P3_Z6 = [0.0, -0.1, -0.3, -0.5, -0.7, -0.9, -1.1, -1.0, -1.2, -1.4, -1.6, -1.5, -1.7, -1.9, -1.8, -2.0, -2.2, -2.1, -2.3, -2.5,
         -2.4, -2.6, -2.8, -2.7, -2.9, -3.1, -3.0, -3.2, -3.1, -3.3, -3.5, -3.4, -3.6, -3.5, -3.7, -3.6, -3.8, -3.7, -3.9, -3.8,
         -4.0, -3.9, -3.8, -4.0, -3.9]
P3_V16 = [0.1, -0.1, -0.3, -0.2, -0.4, -0.6, -0.5, -0.7, -0.6, -0.8, -1.0, -0.9, -1.1, -1.3, -1.2, -1.4, -1.6, -1.5, -1.7, -1.9,
          -1.8, -2.0, -1.8, -1.6, -1.8, -1.7, -1.9, -2.1, -2.0, -2.2, -2.0, -1.8, -2.0, -2.2, -2.1, -1.9, -2.1, -1.9, -1.7, -1.9,
          -1.8, -1.6, -1.8, -1.7, -1.6]
P3_SERIES = [("a", GREEN, P3_V1), ("b", PINK, P3_V2), ("c", CYAN, P3_V3), ("d", ORANGE, P3_V4),
             ("e", PURPLE, P3_V5), ("f", RED, P3_V6), ("g", GRAY, P3_V7), ("h", BLUE, P3_V8),
             ("i", OLIVE, P3_V9), ("j", BROWN, P3_V10), ("k", GREEN, P3_V21), ("l", ORANGE, P3_V22),
             ("m", BLUE, P3_Y1), ("n", RED, P3_Y2), ("o", PURPLE, P3_Y3), ("p", OLIVE, P3_Y4),
             ("q", CYAN, P3_Y5), ("r", PINK, P3_Y6),
             ("s", CYAN, P3_V11), ("t", BROWN, P3_V12), ("u", OLIVE, P3_V13), ("v", ORANGE, P3_V14),
             ("w", GRAY, P3_V15), ("x", PURPLE, P3_V17), ("y", GREEN, P3_V18), ("z", PINK, P3_V19),
             ("za", BLUE, P3_V20), ("zb", RED, P3_Z1), ("zc", BLUE, P3_Z2), ("zd", GREEN, P3_Z3),
             ("ze", ORANGE, P3_Z4), ("zf", GRAY, P3_Z5), ("zg", PURPLE, P3_Z6), ("zz", RED, P3_V16)]

# ---------------- Row 2: magnetization histograms (density per 0.02-wide bin)
GROUPS = ["first 10 iterations", "last 10 iterations"]
BIN = 0.02
H1_FIRST_START = -0.39
H1_FIRST = [0.02, 0.03, 0.05, 0.1, 0.2, 0.4, 0.65, 0.8, 0.95, 1.3, 1.55, 2.0, 2.5, 2.9, 3.1, 3.65, 3.3, 3.95, 3.35, 3.75,
            3.15, 2.4, 2.25, 2.15, 1.65, 1.1, 0.9, 0.5, 0.35, 0.2, 0.15, 0.08, 0.04, 0.02]
H1_LAST_START = -0.09
H1_LAST = [0.05, 1.7, 6.1, 11.6, 13.6, 10.7, 4.5, 1.3, 0.05]
H2_FIRST_START = -0.39
H2_FIRST = [0.03, 0.08, 0.15, 0.3, 0.27, 0.16, 0.68, 0.76, 1.08, 1.45, 1.67, 2.2, 2.7, 3.3, 3.17, 3.38, 3.72, 3.7, 4.25, 3.2,
            3.25, 2.5, 1.9, 1.6, 1.16, 1.24, 0.76, 0.47, 0.43, 0.16, 0.24, 0.03]
H2_LAST_START = -0.13
H2_LAST = [0.18, 0.63, 2.4, 3.7, 6.8, 8.3, 8.95, 7.6, 5.2, 3.9, 1.7, 0.43, 0.1, 0.05]
H3_FIRST_START = -0.39
H3_FIRST = [0.02, 0.02, 0.03, 0.11, 0.29, 0.45, 0.63, 0.79, 0.94, 1.78, 1.8, 1.86, 2.97, 3.17, 3.48, 3.5, 3.49, 3.42, 3.23, 2.94,
            3.15, 2.71, 2.05, 1.57, 1.57, 1.0, 0.94, 0.31, 0.23, 0.17, 0.1, 0.05]
H3_LAST_START = -0.25
H3_LAST = [0.05, 0.11, 0.22, 0.39, 0.6, 0.97, 1.68, 2.83, 3.67, 4.3, 5.66, 6.34, 5.66, 5.3, 3.9, 3.46, 2.08, 1.26, 0.6, 0.25,
           0.05]

# ---------------- Row 3: sigma of qubit magnetizations, iterations 0..99
ITERS = list(range(100))
SIGMA1 = [0.190, 0.182, 0.183, 0.184, 0.186, 0.185, 0.187, 0.192, 0.190, 0.178,
          0.190, 0.300, 0.347, 0.380, 0.398, 0.400, 0.405, 0.418, 0.401, 0.393,
          0.395, 0.390, 0.396, 0.405, 0.403, 0.392, 0.395, 0.400, 0.393, 0.400,
          0.405, 0.404, 0.401, 0.401, 0.392, 0.392, 0.400, 0.408, 0.410, 0.413,
          0.406, 0.397, 0.390, 0.397, 0.409, 0.414, 0.393, 0.367, 0.378, 0.387,
          0.386, 0.383, 0.363, 0.369, 0.393, 0.389, 0.397, 0.401, 0.387, 0.387,
          0.397, 0.406, 0.417, 0.412, 0.415, 0.420, 0.418, 0.422, 0.423, 0.420,
          0.430, 0.435, 0.445, 0.432, 0.414, 0.418, 0.426, 0.434, 0.441, 0.434,
          0.424, 0.424, 0.429, 0.432, 0.430, 0.430, 0.426, 0.420, 0.418, 0.406,
          0.400, 0.403, 0.414, 0.400, 0.366, 0.336, 0.344, 0.363, 0.375, 0.390]
SIGMA2 = [0.183, 0.185, 0.188, 0.189, 0.188, 0.183, 0.181, 0.186, 0.183, 0.189,
          0.194, 0.172, 0.163, 0.157, 0.156, 0.158, 0.156, 0.160, 0.157, 0.158,
          0.158, 0.154, 0.161, 0.160, 0.162, 0.154, 0.158, 0.157, 0.161, 0.158,
          0.156, 0.157, 0.156, 0.157, 0.158, 0.160, 0.159, 0.160, 0.160, 0.163,
          0.157, 0.154, 0.160, 0.151, 0.157, 0.157, 0.156, 0.154, 0.157, 0.151,
          0.141, 0.132, 0.135, 0.138, 0.133, 0.135, 0.132, 0.138, 0.132, 0.141,
          0.149, 0.154, 0.156, 0.156, 0.154, 0.154, 0.154, 0.157, 0.148, 0.149,
          0.143, 0.148, 0.144, 0.148, 0.144, 0.148, 0.143, 0.143, 0.156, 0.143,
          0.163, 0.154, 0.164, 0.160, 0.161, 0.158, 0.156, 0.160, 0.170, 0.160,
          0.162, 0.163, 0.166, 0.165, 0.164, 0.164, 0.163, 0.166, 0.168, 0.163]
SIGMA3 = [0.186, 0.186, 0.186, 0.194, 0.188, 0.183, 0.185, 0.181, 0.188, 0.178,
          0.170, 0.180, 0.181, 0.178, 0.186, 0.180, 0.181, 0.185, 0.178, 0.180,
          0.178, 0.189, 0.181, 0.183, 0.177, 0.172, 0.172, 0.174, 0.169, 0.164,
          0.157, 0.156, 0.164, 0.168, 0.162, 0.170, 0.164, 0.170, 0.164, 0.169,
          0.164, 0.163, 0.168, 0.166, 0.170, 0.173, 0.168, 0.172, 0.169, 0.168,
          0.168, 0.169, 0.173, 0.166, 0.161, 0.163, 0.163, 0.154, 0.152, 0.152,
          0.154, 0.151, 0.157, 0.156, 0.160, 0.154, 0.152, 0.163, 0.164, 0.163,
          0.164, 0.166, 0.167, 0.170, 0.166, 0.172, 0.164, 0.166, 0.170, 0.172,
          0.172, 0.170, 0.168, 0.166, 0.168, 0.166, 0.164, 0.174, 0.164, 0.169,
          0.169, 0.170, 0.170, 0.169, 0.166, 0.168, 0.170, 0.169, 0.167, 0.175]


def text_mark(text, x, y, size, align="center", style="normal"):
    return alt.Chart(pd.DataFrame({"t": [text]})).mark_text(
        align=align, baseline="alphabetic", font=FONT, fontSize=size, fontStyle=style, color="black"
    ).encode(text="t:N", x=alt.value(x), y=alt.value(y))


def x_axis(values, fmt, title, title_y, style="normal"):
    return alt.Axis(values=values, format=fmt, title=title, titleX=W / 2, titleY=title_y,
                    titleBaseline="alphabetic", titleAlign="center", titleFontStyle=style,
                    labelFlush=False)


def y_axis(values, fmt, title, style="normal"):
    return alt.Axis(values=values, format=fmt, title=title, titleX=-52, titleY=H / 2, titleAngle=270,
                    titleBaseline="alphabetic", titleAlign="center", titleFontStyle=style,
                    labelFlush=False)


def flux_panel(series, first, step, ydom, yticks, exponent):
    rows = []
    last = series[-1][0]
    for name, _, vals in series:
        for it in range(0 if name == last else HOLD_UNTIL, HOLD_UNTIL + 1):
            rows.append({"s": name, "it": it, "v": 0.0})
        for k, v in enumerate(vals):
            rows.append({"s": name, "it": first + step * k, "v": v})
    df = pd.DataFrame(rows)
    lines = alt.Chart(df).mark_line(strokeWidth=1.15).encode(
        x=alt.X("it:Q", scale=alt.Scale(domain=ITER_DOMAIN, nice=False, zero=False),
                axis=x_axis(ITER_TICKS, "d", "Iteration", 55)),
        y=alt.Y("v:Q", scale=alt.Scale(domain=ydom, nice=False, zero=False),
                axis=y_axis(yticks, "d", "Φᵢ (Φ₀)")),
        color=alt.Color("s:N", scale=alt.Scale(domain=[s[0] for s in series], range=[s[1] for s in series]),
                        legend=None),
    )
    return alt.layer(
        lines,
        text_mark("Flux-bias offsets", W / 2, -14, 18.5),
        text_mark("·10", 6, -10, 18, "left"),
        text_mark(exponent, 32, -17, 12.5, "left"),
    ).properties(width=W, height=H)


def hist_panel(fs, fv, ls, lv, ydom, yticks):
    rows = []
    for g, start, vals in ((GROUPS[0], fs, fv), (GROUPS[1], ls, lv)):
        for k, d in enumerate(vals):
            lo = round(start + BIN * k, 4)
            rows.append({"g": g, "lo": lo, "hi": round(lo + BIN, 4), "d": d})
    df = pd.DataFrame(rows)
    bars = alt.Chart(df).mark_rect(opacity=0.5).encode(
        x=alt.X("lo:Q", scale=alt.Scale(domain=[-0.5, 0.5], nice=False, zero=False),
                axis=x_axis([-0.4, -0.2, 0, 0.2, 0.4], "~g", "⟨sᵢ⟩", 56, "italic")),
        x2="hi:Q",
        y=alt.Y("d:Q", scale=alt.Scale(domain=ydom, nice=False, zero=False),
                axis=y_axis(yticks, "d", "Prob. density")),
        y2=alt.datum(0),
        color=alt.Color("g:N", scale=alt.Scale(domain=GROUPS, range=[BLUE, ORANGE]),
                        legend=alt.Legend(title=None, orient="none", legendX=91, legendY=10,
                                          direction="vertical",
                                          symbolType="M-1,-0.6H-0.4V0.6H-1Z M0.4,-0.6H1V0.6H0.4Z",
                                          symbolSize=400, symbolStrokeColor="#333333",
                                          symbolStrokeWidth=1, symbolOpacity=0.55,
                                          labelFont=FONT, labelFontSize=18.3, labelColor="black",
                                          labelOffset=5, labelLimit=400, rowPadding=4, padding=0)),
    )
    return alt.layer(bars, text_mark("Magnetizations", W / 2, -26, 18.5)).properties(width=W, height=H)


def sigma_panel(vals):
    df = pd.DataFrame({"it": ITERS, "v": vals})
    line = alt.Chart(df).mark_line(color=SIGMA_COLOR, strokeWidth=1.6).encode(
        x=alt.X("it:Q", scale=alt.Scale(domain=ITER_DOMAIN, nice=False, zero=False),
                axis=x_axis(ITER_TICKS, "d", "Iteration", 56)),
        y=alt.Y("v:Q", scale=alt.Scale(domain=[0, 0.5], nice=False, zero=False),
                axis=y_axis([0, 0.1, 0.2, 0.3, 0.4, 0.5], "~g", "σ", "italic")),
    )
    return alt.layer(
        line,
        text_mark("σ", 29, -21, 18.5, "left", "italic"),
        text_mark("of qubit magnetizations", 46, -21, 18.5, "left"),
    ).properties(width=W, height=H)


panels = [
    flux_panel(P1_SERIES, P1_FIRST, P1_STEP, [-8.3, 8.35], [-5, 0, 5], "−5"),
    flux_panel(P2_SERIES, P2_FIRST, P2_STEP, [-2.67, 2.69], [-2, -1, 0, 1, 2], "−5"),
    flux_panel(P3_SERIES, P3_FIRST, P3_STEP, [-7.8, 7.85], [-5, 0, 5], "−6"),
    hist_panel(H1_FIRST_START, H1_FIRST, H1_LAST_START, H1_LAST, [0, 20], [0, 5, 10, 15, 20]),
    hist_panel(H2_FIRST_START, H2_FIRST, H2_LAST_START, H2_LAST, [0, 13.1], [0, 2, 4, 6, 8, 10, 12]),
    hist_panel(H3_FIRST_START, H3_FIRST, H3_LAST_START, H3_LAST, [0, 9.32], [0, 2, 4, 6, 8]),
    sigma_panel(SIGMA1),
    sigma_panel(SIGMA2),
    sigma_panel(SIGMA3),
]

chart = alt.concat(
    *panels, columns=3, spacing={"row": 135, "column": 135}, bounds="flush", padding=0
).resolve_scale(
    x="independent", y="independent", color="independent"
).resolve_axis(
    x="independent", y="independent"
).resolve_legend(
    color="independent"
).configure(
    font=FONT
).configure_view(
    stroke="black", strokeWidth=1.5
).configure_axis(
    domain=False, grid=False, tickColor="#8a8a8a", tickSize=7, tickWidth=1,
    labelFont=FONT, labelFontSize=18, labelColor="black", labelPadding=7,
    titleFont=FONT, titleFontSize=18.5, titleFontWeight="normal", titleColor="black",
)

chart.save("out.html", embed_options={"renderer": "svg", "actions": False})
